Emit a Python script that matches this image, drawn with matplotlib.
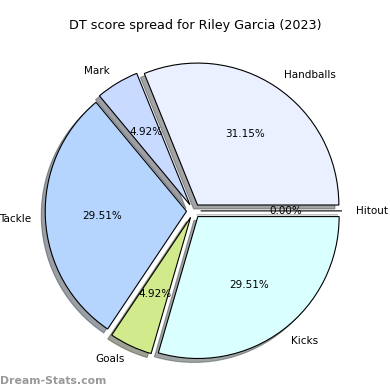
import matplotlib
matplotlib.use("Agg")
import matplotlib.pyplot as plt

# Data
labels = ["Handballs", "Mark", "Tackle", "Goals", "Kicks", "Hitout"]
values = [19, 3, 18, 3, 18, 0]
colors = ["#eaf0ff", "#c8daff", "#b5d5ff", "#d1ea8c", "#d9ffff", "#ffffff"]
explode = [0.05] * len(values)

fig = plt.figure(figsize=(3.9, 3.9), dpi=100)
ax = fig.add_axes([0, 0, 1, 1])

ax.pie(values, labels=labels, colors=colors, explode=explode,
       autopct="%.2f%%", shadow=True, startangle=0,
       wedgeprops=dict(edgecolor="black", linewidth=0.8),
       textprops=dict(fontsize=7.5))
ax.set_aspect("auto")
ax.set_xlim(-1.37, 1.39)
ax.set_ylim(-1.262, 1.486)
ax.axis("off")

fig.text(0.5, 1 - 25 / 390, "DT score spread for Riley Garcia (2023)",
         fontsize=9.2, ha="center", va="center")
fig.text(0.0, 0.01, "Dream-Stats.com", fontsize=7.8, fontweight="bold",
         color="#999999", ha="left", va="bottom")

plt.savefig("out.png", dpi=100)
